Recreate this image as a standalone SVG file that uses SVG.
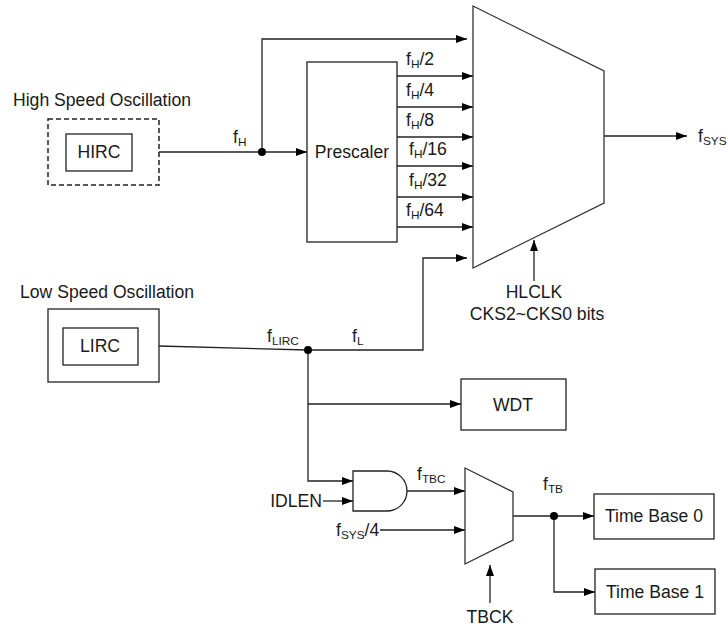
<svg xmlns="http://www.w3.org/2000/svg" width="728" height="628" viewBox="0 0 728 628">
<style>
text{font-family:"Liberation Sans",Arial,sans-serif;font-size:17.6px;fill:#1a1a1a}
.sub{font-size:11.8px}
.c{text-anchor:middle}
.box{fill:#fff;stroke:#222;stroke-width:1.3}
.w{fill:none;stroke:#222;stroke-width:1.3}
.a{fill:none;stroke:#222;stroke-width:1.3;marker-end:url(#arr)}
.dot{fill:#000}
</style>
<defs>
<marker id="arr" markerUnits="userSpaceOnUse" markerWidth="12" markerHeight="10" refX="11" refY="4" orient="auto">
<path d="M0,0 L11,4 L0,8 Z" fill="#000"/>
</marker>
</defs>
<rect width="728" height="628" fill="#fff"/>

<g id="connectors">
<polyline class="w" points="159,152 262,152"/>
<line class="a" x1="262" y1="152" x2="307" y2="152"/>
<polyline class="a" points="262,152 262,39 467,39"/>
<line class="a" x1="397" y1="76" x2="473" y2="76"/>
<line class="a" x1="397" y1="107" x2="473" y2="107"/>
<line class="a" x1="397" y1="137" x2="473" y2="137"/>
<line class="a" x1="397" y1="166" x2="473" y2="166"/>
<line class="a" x1="397" y1="197" x2="473" y2="197"/>
<line class="a" x1="397" y1="227" x2="473" y2="227"/>
<line class="a" x1="604" y1="136" x2="687" y2="136"/>
<line class="a" x1="534" y1="281" x2="534" y2="240"/>
<polyline class="w" points="159,346 308,350"/>
<polyline class="a" points="308,350 423,350 423,258 467,258"/>
<polyline class="a" points="308,350 308,404 461,404"/>
<polyline class="a" points="308,404 308,481 353,481"/>
<line class="a" x1="323" y1="501" x2="353" y2="501"/>
<line class="a" x1="407" y1="491" x2="465" y2="491"/>
<line class="a" x1="380" y1="530" x2="465" y2="530"/>
<line class="a" x1="490" y1="603" x2="490" y2="565"/>
<line class="w" x1="513" y1="516" x2="554" y2="516"/>
<line class="a" x1="554" y1="516" x2="594" y2="516"/>
<polyline class="a" points="554,516 554,592 595,592"/>
<circle class="dot" cx="262" cy="152" r="4"/>
<circle class="dot" cx="308" cy="350" r="4"/>
<circle class="dot" cx="554" cy="516" r="4"/>
</g>

<g id="high-speed">
<text x="13" y="106">High Speed Oscillation</text>
<rect x="48" y="119" width="111" height="66" fill="#fff" stroke="#222" stroke-width="1.5" stroke-dasharray="5,3"/>
</g>
<g id="hirc">
<rect class="box" x="66" y="134" width="66" height="37"/>
<text class="c" x="99" y="158">HIRC</text>
</g>

<g id="prescaler">
<rect class="box" x="307" y="62" width="90" height="180"/>
<text class="c" x="352" y="158">Prescaler</text>
</g>

<g id="mux">
<polygon points="473,6 604,71 604,203 473,268" fill="#fff" stroke="#333" stroke-width="1.3"/>
</g>

<g id="low-speed">
<text x="20" y="298">Low Speed Oscillation</text>
<rect class="box" x="48" y="309" width="111" height="73"/>
</g>
<g id="lirc">
<rect class="box" x="63" y="328" width="75" height="37"/>
<text class="c" x="100" y="352">LIRC</text>
</g>

<g id="wdt">
<rect class="box" x="461" y="379" width="105" height="51"/>
<text class="c" x="513" y="411">WDT</text>
</g>

<g id="and-gate">
<path d="M353,471 H387 A20,20 0 0 1 387,511 H353 Z" fill="#fff" stroke="#222" stroke-width="1.3"/>
</g>

<g id="tb-mux">
<polygon points="465,468 513,492 513,540 465,564" fill="#fff" stroke="#333" stroke-width="1.3"/>
</g>

<g id="timebase0">
<rect class="box" x="594" y="494" width="120" height="45"/>
<text class="c" x="654" y="522">Time Base 0</text>
</g>
<g id="timebase1">
<rect class="box" x="595" y="569" width="120" height="45"/>
<text class="c" x="655" y="598">Time Base 1</text>
</g>

<g id="labels">
<text x="233" y="143">f<tspan class="sub" dy="3">H</tspan></text>
<text x="406" y="65">f<tspan class="sub" dy="3">H</tspan><tspan dy="-3">/2</tspan></text>
<text x="406" y="96">f<tspan class="sub" dy="3">H</tspan><tspan dy="-3">/4</tspan></text>
<text x="406" y="126">f<tspan class="sub" dy="3">H</tspan><tspan dy="-3">/8</tspan></text>
<text x="409" y="155">f<tspan class="sub" dy="3">H</tspan><tspan dy="-3">/16</tspan></text>
<text x="409" y="186">f<tspan class="sub" dy="3">H</tspan><tspan dy="-3">/32</tspan></text>
<text x="406" y="216">f<tspan class="sub" dy="3">H</tspan><tspan dy="-3">/64</tspan></text>
<text x="698" y="142">f<tspan class="sub" dy="3">SYS</tspan></text>
<text class="c" x="534" y="298">HLCLK</text>
<text class="c" x="537" y="320">CKS2~CKS0 bits</text>
<text x="267" y="342">f<tspan class="sub" dy="3">LIRC</tspan></text>
<text x="352" y="342">f<tspan class="sub" dy="3">L</tspan></text>
<text x="322" y="507" text-anchor="end">IDLEN</text>
<text x="417" y="480">f<tspan class="sub" dy="3">TBC</tspan></text>
<text x="336" y="536">f<tspan class="sub" dy="3">SYS</tspan><tspan dy="-3">/4</tspan></text>
<text class="c" x="490" y="623">TBCK</text>
<text x="543" y="490">f<tspan class="sub" dy="3">TB</tspan></text>
</g>
</svg>
